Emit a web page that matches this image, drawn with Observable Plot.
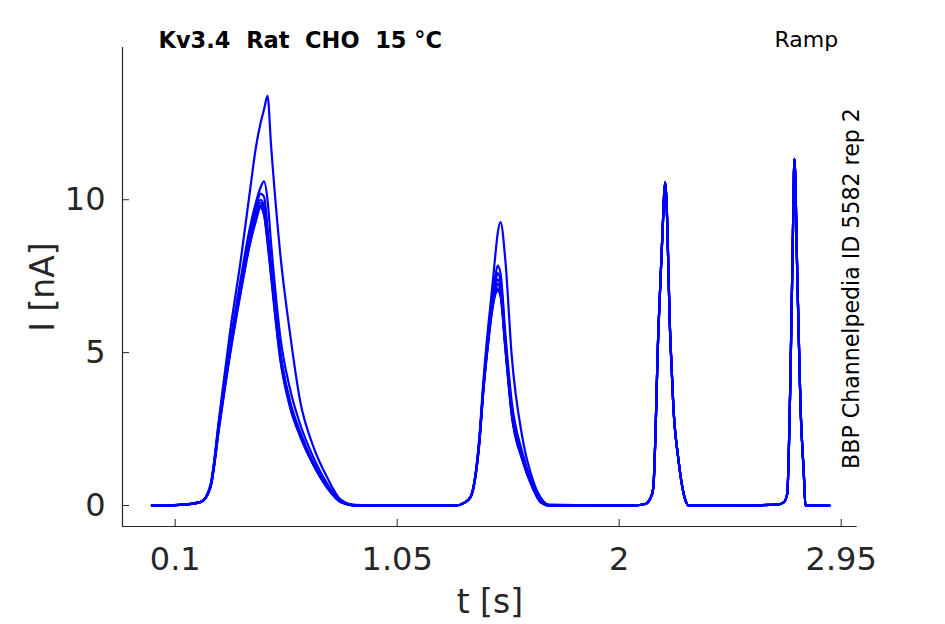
<!DOCTYPE html>
<html>
<head>
<meta charset="utf-8">
<script src="https://cdn.jsdelivr.net/npm/d3@7"></script>
<script src="https://cdn.jsdelivr.net/npm/@observablehq/plot@0.6"></script>
<style>
  html, body { margin: 0; padding: 0; background: #fff; }
  #chart { width: 945px; height: 624px; }
</style>
</head>
<body>
<div id="chart"></div>
<script>
// ---- Data ----
const titleText = "Kv3.4  Rat  CHO  15 °C";
const protocolText = "Ramp";
const sourceText = "BBP Channelpedia ID 5582 rep 2";
const xLabel = "t [s]";
const yLabel = "I [nA]";

const xTicks = [0.1, 1.05, 2, 2.95];
const yTicks = [0, 5, 10];
const xDomain = [-0.1256, 3.0185];
const yDomain = [-0.687, 14.98];

// time keypoints (s)
const tPeak1 = [0, 0.12, 0.21, 0.25, 0.29, 0.335, 0.38, 0.42, 0.445, 0.465, 0.48, 0.495, 0.51, 0.55, 0.59, 0.635, 0.69, 0.75, 0.81, 0.87, 1.0, 1.2];
const tPeak2 = [1.30, 1.34, 1.365, 1.40, 1.42, 1.44, 1.455, 1.47, 1.48, 1.492, 1.513, 1.54, 1.585, 1.63, 1.665, 1.70];
const tTail  = [2.05, 2.112, 2.141, 2.147, 2.168, 2.184, 2.197, 2.219, 2.232, 2.254, 2.284, 2.297, 2.5, 2.676, 2.704, 2.719, 2.733, 2.743, 2.750, 2.762, 2.776, 2.790, 2.797, 2.9];

// current (nA) per sweep, first ramp peak
const peak1Sweeps = [
  [0, 0.02, 0.12, 0.65, 3.0, 5.7, 8.0, 10.3, 11.7, 12.5, 12.95, 13.4, 11.8, 8.2, 5.7, 3.4, 1.95, 0.92, 0.18, 0.02, 0, 0],
  [0, 0.02, 0.12, 0.62, 2.9, 5.3, 7.4, 9.1, 9.9, 10.4, 10.6, 10.0, 8.6, 5.5, 3.85, 2.65, 1.6, 0.72, 0.15, 0.01, 0, 0],
  [0, 0.02, 0.12, 0.6, 2.85, 5.2, 7.2, 8.9, 9.7, 10.2, 10.1, 9.1, 7.9, 5.0, 3.45, 2.4, 1.42, 0.63, 0.12, 0, 0, 0],
  [0, 0.02, 0.12, 0.6, 2.8, 5.15, 7.15, 8.8, 9.55, 10.0, 9.8, 8.9, 7.8, 4.95, 3.4, 2.35, 1.4, 0.62, 0.12, 0, 0, 0],
  [0, 0.02, 0.12, 0.58, 2.75, 5.1, 7.1, 8.7, 9.45, 9.9, 9.65, 8.8, 7.7, 4.9, 3.35, 2.3, 1.38, 0.6, 0.11, 0, 0, 0],
  [0, 0.02, 0.12, 0.58, 2.7, 5.0, 7.0, 8.6, 9.35, 9.8, 9.55, 8.7, 7.6, 4.8, 3.3, 2.28, 1.36, 0.6, 0.11, 0, 0, 0],
  [0, 0.02, 0.11, 0.56, 2.65, 4.95, 6.95, 8.55, 9.3, 9.75, 9.5, 8.6, 7.5, 4.75, 3.25, 2.25, 1.34, 0.58, 0.1, 0, 0, 0]
];
// second ramp peak
const peak2Sweeps = [
  [0, 0.1, 0.3, 2.1, 4.2, 5.9, 7.0, 8.2, 8.9, 9.27, 8.0, 4.9, 2.25, 0.85, 0.25, 0.03],
  [0, 0.1, 0.3, 2.0, 4.0, 5.6, 6.6, 7.5, 7.85, 7.6, 5.6, 3.4, 1.75, 0.7, 0.15, 0.01],
  [0, 0.1, 0.3, 2.0, 4.0, 5.55, 6.5, 7.3, 7.6, 7.35, 5.4, 3.2, 1.65, 0.65, 0.12, 0],
  [0, 0.1, 0.3, 2.0, 3.95, 5.5, 6.45, 7.15, 7.4, 7.15, 5.3, 3.1, 1.6, 0.6, 0.1, 0],
  [0, 0.1, 0.3, 1.95, 3.9, 5.45, 6.4, 7.05, 7.25, 7.0, 5.2, 3.05, 1.55, 0.6, 0.1, 0],
  [0, 0.1, 0.28, 1.95, 3.9, 5.4, 6.35, 6.95, 7.1, 6.9, 5.15, 3.0, 1.52, 0.58, 0.1, 0],
  [0, 0.1, 0.28, 1.9, 3.85, 5.35, 6.3, 6.9, 7.03, 6.85, 5.1, 2.95, 1.5, 0.56, 0.1, 0]
];
// third and fourth peaks (all sweeps overlap)
const tailCurrent = [0, 0.05, 0.38, 0.7, 5.8, 8.7, 10.57, 5.4, 3.2, 1.47, 0.16, 0, 0, 0.03, 0.1, 0.38, 4.3, 8.7, 11.34, 7.6, 3.2, 1.05, 0, 0];

// ---- Build table ----
const rows = [];
peak1Sweeps.forEach((p1, i) => {
  tPeak1.forEach((t, j) => rows.push({sweep: i, t, I: p1[j]}));
  tPeak2.forEach((t, j) => rows.push({sweep: i, t, I: peak2Sweeps[i][j]}));
  tTail.forEach((t, j) => rows.push({sweep: i, t, I: tailCurrent[j]}));
});

const axisColor = "#262626";
const fontFamily = "'DejaVu Sans', sans-serif";

const chart = Plot.plot({
  width: 945,
  height: 624,
  marginLeft: 122,
  marginRight: 88.3,
  marginTop: 47,
  marginBottom: 98,
  x: {domain: xDomain},
  y: {domain: yDomain},
  style: {fontFamily, background: "#fff", color: axisColor, overflow: "visible"},
  marks: [
    Plot.ruleX([xDomain[0]], {stroke: axisColor, strokeWidth: 1.2}),
    Plot.ruleY([yDomain[0]], {stroke: axisColor, strokeWidth: 1.2}),
    Plot.axisX(xTicks, {tickSize: -7, tickPadding: 28, fontSize: 32, label: null, tickFormat: d => String(d), stroke: axisColor, fill: axisColor}),
    Plot.axisY(yTicks, {tickSize: -7, tickPadding: 24, fontSize: 32, label: null, tickFormat: d => String(d), stroke: axisColor, fill: axisColor}),
    Plot.line(rows, {x: "t", y: "I", z: "sweep", stroke: "#0000ff", strokeWidth: 2.2, curve: "monotone-x"}),
    Plot.text([xLabel], {frameAnchor: "bottom", textAnchor: "middle", lineAnchor: "bottom", dy: 86, fontSize: 33, fill: axisColor}),
    Plot.text([yLabel], {frameAnchor: "left", textAnchor: "middle", lineAnchor: "bottom", rotate: -90, dx: -69, fontSize: 33, fill: axisColor}),
    Plot.text([titleText], {frameAnchor: "top-left", textAnchor: "start", lineAnchor: "bottom", dx: 36, dy: 0, fontSize: 22.5, fontWeight: "bold", fill: "#000"}),
    Plot.text([protocolText], {frameAnchor: "top-right", textAnchor: "end", lineAnchor: "bottom", dx: -19, dy: -1, fontSize: 22, fill: "#000"}),
    Plot.text([sourceText], {frameAnchor: "right", textAnchor: "middle", lineAnchor: "bottom", rotate: -90, dx: 1.5, dy: 1.5, fontSize: 22.1, fill: "#000"})
  ]
});
document.getElementById("chart").appendChild(chart);
</script>
</body>
</html>
